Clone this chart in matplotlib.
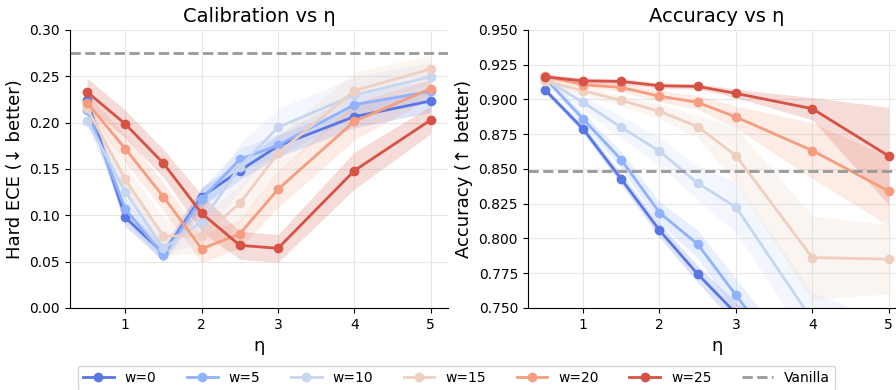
import numpy as np
import matplotlib.pyplot as plt

etas = [0.5, 1, 1.5, 2, 2.5, 3, 4, 5]
ws = [0, 5, 10, 15, 20, 25]

# Hard ECE medias y desviaciones
ece = {
    0:  [0.2245, 0.0978, 0.0590, 0.1201, 0.1482, 0.1748, 0.2065, 0.2234],
    5:  [0.2137, 0.1068, 0.0568, 0.1173, 0.1604, 0.1755, 0.2194, 0.2338],
    10: [0.2022, 0.1255, 0.0644, 0.0928, 0.1525, 0.1950, 0.2299, 0.2496],
    15: [0.2155, 0.1388, 0.0777, 0.0777, 0.1129, 0.1669, 0.2345, 0.2579],
    20: [0.2216, 0.1719, 0.1201, 0.0640, 0.0799, 0.1281, 0.2014, 0.2367],
    25: [0.2331, 0.1986, 0.1561, 0.1022, 0.0676, 0.0644, 0.1482, 0.2029],
}
ece_std = {
    0:  [0.010, 0.010, 0.008, 0.010, 0.010, 0.012, 0.012, 0.012],
    5:  [0.010, 0.012, 0.008, 0.012, 0.012, 0.012, 0.012, 0.012],
    10: [0.010, 0.012, 0.010, 0.020, 0.025, 0.020, 0.020, 0.015],
    15: [0.010, 0.015, 0.020, 0.020, 0.020, 0.020, 0.020, 0.015],
    20: [0.010, 0.015, 0.015, 0.015, 0.015, 0.020, 0.020, 0.010],
    25: [0.015, 0.015, 0.015, 0.020, 0.015, 0.015, 0.020, 0.015],
}

# Accuracy medias y desviaciones
acc = {
    0:  [0.9070, 0.8788, 0.8427, 0.8059, 0.7744, 0.7462, 0.7000, 0.6600],
    5:  [0.9154, 0.8860, 0.8566, 0.8186, 0.7959, 0.7593, 0.6860, 0.6400],
    10: [0.9146, 0.8979, 0.8800, 0.8628, 0.8398, 0.8226, 0.7414, 0.7200],
    15: [0.9134, 0.9063, 0.8993, 0.8915, 0.8805, 0.8597, 0.7863, 0.7851],
    20: [0.9170, 0.9106, 0.9087, 0.9024, 0.8979, 0.8874, 0.8633, 0.8341],
    25: [0.9163, 0.9134, 0.9130, 0.9099, 0.9094, 0.9044, 0.8934, 0.8594],
}
acc_std = {
    0:  [0.002, 0.003, 0.004, 0.005, 0.006, 0.008, 0.010, 0.010],
    5:  [0.002, 0.004, 0.006, 0.008, 0.010, 0.012, 0.015, 0.015],
    10: [0.002, 0.005, 0.008, 0.010, 0.012, 0.018, 0.020, 0.020],
    15: [0.002, 0.003, 0.004, 0.005, 0.008, 0.020, 0.030, 0.025],
    20: [0.002, 0.002, 0.003, 0.004, 0.005, 0.008, 0.020, 0.025],
    25: [0.002, 0.002, 0.002, 0.002, 0.002, 0.003, 0.008, 0.035],
}

vanilla_ece = 0.2748
vanilla_acc = 0.8489

colores = plt.cm.coolwarm(np.linspace(0.1, 0.9, len(ws)))

plt.rcParams['font.family'] = ['DejaVu Sans']
fig = plt.figure(figsize=(8.96, 3.9), dpi=100)
ax1 = fig.add_axes([0.078, 0.2103, 0.4219, 0.7128])
ax2 = fig.add_axes([0.589, 0.2103, 0.4219, 0.7128])

for ax, datos, stds in [(ax1, ece, ece_std), (ax2, acc, acc_std)]:
    for w, c in zip(ws, colores):
        m = np.array(datos[w])
        s = np.array(stds[w])
        ax.fill_between(etas, m - s, m + s, color=c, alpha=0.2, linewidth=0)
        ax.plot(etas, m, '-o', color=c, linewidth=2, markersize=6, label=f'w={w}')
    ax.grid(True, color='#e6e6e6', linewidth=0.8)
    ax.set_axisbelow(True)
    for lado in ['top', 'right']:
        ax.spines[lado].set_visible(False)
    ax.set_xlabel('η', fontsize=13)
    ax.tick_params(labelsize=10)
    ax.set_xlim(0.275, 5.225)

ax1.axhline(vanilla_ece, color='#999999', linestyle='--', linewidth=2, label='Vanilla')
ax2.axhline(vanilla_acc, color='#999999', linestyle='--', linewidth=2, label='Vanilla')

ax1.set_ylim(0, 0.30)
ax1.set_yticks(np.arange(0, 0.301, 0.05))
ax1.set_title('Calibration vs η', fontsize=14)
ax1.set_ylabel('Hard ECE (↓ better)', fontsize=13)

ax2.set_ylim(0.75, 0.95)
ax2.set_yticks(np.arange(0.75, 0.951, 0.025))
ax2.set_title('Accuracy vs η', fontsize=14)
ax2.set_ylabel('Accuracy (↑ better)', fontsize=13)

handles, labels = ax1.get_legend_handles_labels()
fig.legend(handles, labels, loc='upper center', ncol=7, fontsize=10,
           bbox_to_anchor=(0.5095, 0.0623), borderaxespad=0,
           handlelength=2.2, columnspacing=2.2)

fig.savefig('out.png', dpi=100)
